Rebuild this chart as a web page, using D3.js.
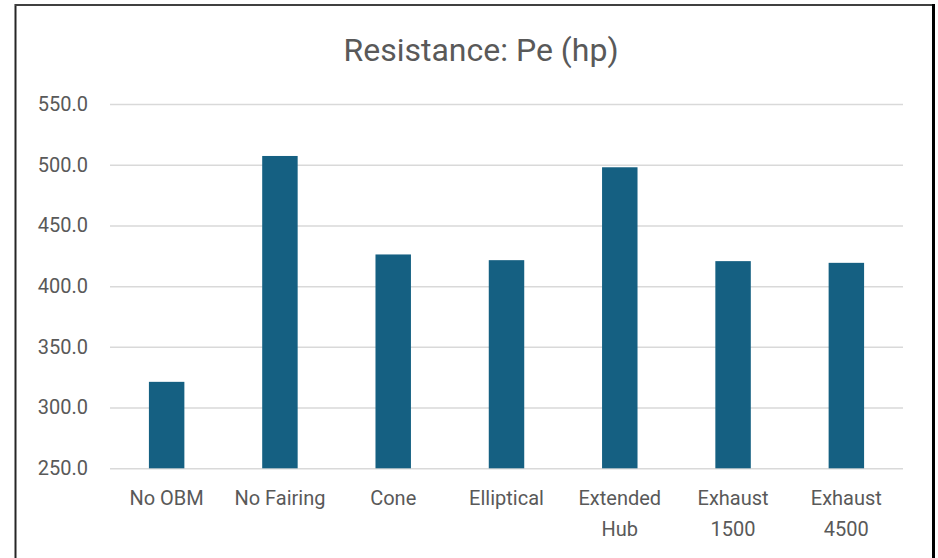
<!DOCTYPE html>
<html>
<head>
<meta charset="utf-8">
<script src="https://cdn.jsdelivr.net/npm/d3@7"></script>
<style>
  html, body { margin: 0; padding: 0; background: #fff; }
  svg { display: block; }
</style>
</head>
<body>
<svg id="chart" width="938" height="558"></svg>
<script>
const categories = ["No OBM", "No Fairing", "Cone", "Elliptical", "Extended Hub", "Exhaust 1500", "Exhaust 4500"];
const categoryLines = [["No OBM"], ["No Fairing"], ["Cone"], ["Elliptical"], ["Extended", "Hub"], ["Exhaust", "1500"], ["Exhaust", "4500"]];
const peValues = [321.2, 507.2, 426.1, 421.4, 497.9, 420.6, 419.2];
const yTicks = [250, 300, 350, 400, 450, 500, 550];
const title = "Resistance: Pe (hp)";

const svg = d3.select("#chart");
const font = "Roboto, 'Liberation Sans', sans-serif";
const textColor = "#595959";

const plot = { left: 110, right: 903, top: 104, bottom: 468.3 };

const x = d3.scaleBand().domain(categories).range([plot.left, plot.right]).paddingInner(0.687).paddingOuter(0.3435);
const y = d3.scaleLinear().domain([250, 550]).range([plot.bottom, plot.top]);

// border
svg.append("line").attr("x1", 15.5).attr("x2", 15.5).attr("y1", 4).attr("y2", 560).attr("stroke", "#262626").attr("stroke-width", 2);
svg.append("line").attr("x1", 15).attr("x2", 935).attr("y1", 5).attr("y2", 5).attr("stroke", "#404040").attr("stroke-width", 2);
svg.append("line").attr("x1", 933.5).attr("x2", 933.5).attr("y1", 4).attr("y2", 560).attr("stroke", "#000").attr("stroke-width", 3);

// title
svg.append("text").attr("x", 481).attr("y", 61).attr("text-anchor", "middle")
  .attr("font-family", font).attr("font-size", 32).attr("fill", textColor).text(title);

// gridlines + y axis
const yAxis = d3.axisLeft(y).tickValues(yTicks).tickFormat(d3.format(".1f")).tickSize(-(plot.right - plot.left)).tickPadding(22);
const gy = svg.append("g").attr("transform", `translate(${plot.left},0)`).call(yAxis);
gy.select(".domain").remove();
gy.selectAll(".tick line").attr("stroke", "#d9d9d9").attr("stroke-width", 1.5);
gy.selectAll(".tick text").attr("font-family", font).attr("font-size", 20).attr("fill", textColor);

// bars
svg.append("g").selectAll("rect").data(peValues).join("rect")
  .attr("x", (d, i) => x(categories[i]))
  .attr("width", x.bandwidth())
  .attr("y", d => y(d))
  .attr("height", d => y(250) - y(d))
  .attr("fill", "#156082");

// x labels
const xl = svg.append("g");
categories.forEach((c, i) => {
  const t = xl.append("text").attr("x", x(c) + x.bandwidth() / 2).attr("y", 505)
    .attr("text-anchor", "middle").attr("font-family", font).attr("font-size", 20).attr("fill", textColor);
  categoryLines[i].forEach((ln, j) => {
    t.append("tspan").attr("x", x(c) + x.bandwidth() / 2).attr("dy", j === 0 ? 0 : 31).text(ln);
  });
});
</script>
</body>
</html>
